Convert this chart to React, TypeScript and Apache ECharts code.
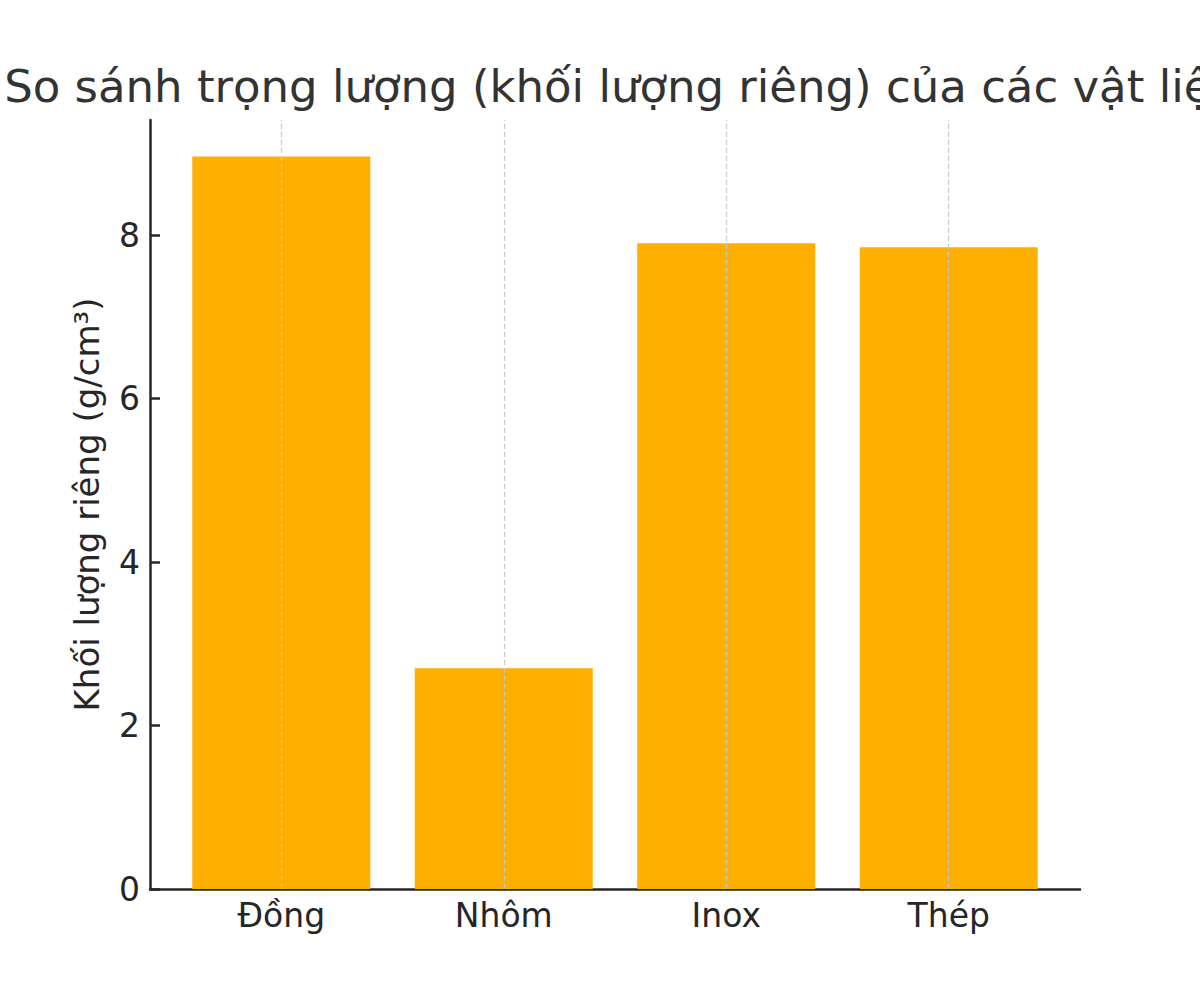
import React, { useEffect, useRef } from "react";
import * as echarts from "echarts";

// Khối lượng riêng (g/cm³) của từng vật liệu
const categories = ["Đồng", "Nhôm", "Inox", "Thép"];
const densities = [8.96, 2.7, 7.9, 7.85];
const yTicks = [0, 2, 4, 6, 8];

const TEXT = "#262626";
const FONT = "DejaVu Sans";

const App: React.FC = () => {
  const chartRef = useRef<HTMLDivElement>(null);

  useEffect(() => {
    document.body.style.margin = "0";
    if (!chartRef.current) return;

    const chart = echarts.init(chartRef.current, undefined, { renderer: "svg" });

    const xIdx = categories.map((_, i) => i);

    const option: echarts.EChartsOption = {
      animation: false,
      backgroundColor: "#ffffff",
      textStyle: { fontFamily: FONT },
      title: {
        text: "So sánh trọng lượng (khối lượng riêng) của các vật liệu",
        left: 617,
        textAlign: "center",
        top: 59,
        textStyle: {
          fontFamily: FONT,
          fontSize: 45,
          fontWeight: "normal",
          color: "#333333",
        },
      },
      grid: { left: 150, right: 120, top: 120, bottom: 111 },
      xAxis: {
        type: "value",
        min: -0.59,
        max: 3.59,
        axisLine: { show: true, onZero: false, lineStyle: { color: TEXT, width: 2.5 } },
        axisTick: {
          show: true,
          inside: true,
          length: 10,
          customValues: xIdx,
          lineStyle: { color: TEXT, width: 2.5 },
        },
        axisLabel: {
          customValues: xIdx,
          formatter: (v: number) => categories[Math.round(v)] ?? "",
          fontFamily: FONT,
          fontSize: 33,
          color: TEXT,
          margin: 10,
        },
        splitLine: { show: false },
      },
      yAxis: {
        type: "value",
        min: 0,
        max: 9.408,
        name: "Khối lượng riêng (g/cm³)",
        nameLocation: "middle",
        nameGap: 46,
        nameRotate: 90,
        nameTextStyle: { fontFamily: FONT, fontSize: 34, color: TEXT },
        axisLine: { show: true, onZero: false, lineStyle: { color: TEXT, width: 2.5 } },
        axisTick: {
          show: true,
          inside: true,
          length: 10,
          customValues: yTicks,
          lineStyle: { color: TEXT, width: 2.5 },
        },
        axisLabel: {
          customValues: yTicks,
          fontFamily: FONT,
          fontSize: 33,
          color: TEXT,
          margin: 10,
        },
        splitLine: { show: false },
      },
      series: [
        {
          type: "bar",
          data: densities.map((d, i) => [i, d]),
          barWidth: "80%",
          itemStyle: { color: "#FFAF00" },
          markLine: {
            silent: true,
            symbol: "none",
            label: { show: false },
            lineStyle: { color: "#c8c8c8", type: [5, 3], width: 1.2 },
            z: 10,
            data: xIdx.map((i) => ({ xAxis: i })),
          },
        },
      ],
    };

    chart.setOption(option);

    return () => {
      chart.dispose();
    };
  }, []);

  return <div ref={chartRef} style={{ width: 1200, height: 1000 }} />;
};

export default App;
